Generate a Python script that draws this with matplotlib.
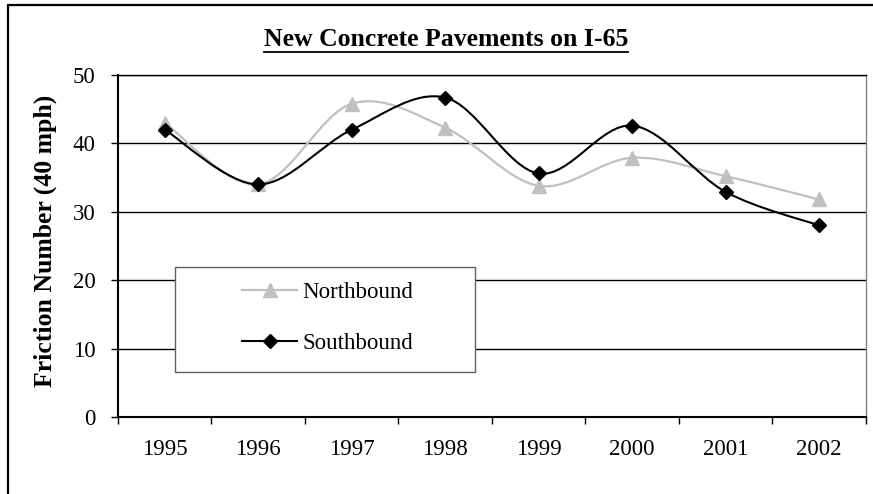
import matplotlib
matplotlib.use("Agg")
import matplotlib.pyplot as plt
from matplotlib.path import Path
from matplotlib.patches import PathPatch, Rectangle
from matplotlib.lines import Line2D
from matplotlib.transforms import IdentityTransform

# Friction numbers measured at 40 mph
years = ["1995", "1996", "1997", "1998", "1999", "2000", "2001", "2002"]
northbound = [43.0, 34.0, 45.8, 42.3, 33.8, 37.9, 35.2, 31.8]
southbound = [42.0, 34.0, 42.0, 46.7, 35.6, 42.6, 32.9, 28.0]
y_ticks = [0, 10, 20, 30, 40, 50]

title = "New Concrete Pavements on I-65"
y_label = "Friction Number (40 mph)"

plt.rcParams["font.family"] = ["Liberation Serif", "DejaVu Serif"]

W, H = 873, 494
fig = plt.figure(figsize=(W / 100, H / 100), dpi=100)
fig.patch.set_facecolor("white")

# outer chart border (only top/left fall inside the canvas)
fig.add_artist(Rectangle((8 / W, -0.1), 1.2, 1 - 5 / H + 0.1, transform=fig.transFigure,
                         fill=False, edgecolor="black", linewidth=1.6))

ax = fig.add_axes([118 / W, 1 - 417 / H, (866 - 118) / W, (417 - 75) / H])

x = list(range(len(years)))


def smooth_path(xs, ys):
    """Cardinal-spline Bezier path through the points (spreadsheet-style smoothing)."""
    n = len(xs)
    verts = [(xs[0], ys[0])]
    codes = [Path.MOVETO]
    for i in range(n - 1):
        a = i - 1 if i > 0 else i
        d = i + 2 if i + 2 < n else i + 1
        c1 = (xs[i] + (xs[i + 1] - xs[a]) / 6, ys[i] + (ys[i + 1] - ys[a]) / 6)
        c2 = (xs[i + 1] - (xs[d] - xs[i]) / 6, ys[i + 1] - (ys[d] - ys[i]) / 6)
        verts += [c1, c2, (xs[i + 1], ys[i + 1])]
        codes += [Path.CURVE4] * 3
    return Path(verts, codes)


nb_color = "#C0C0C0"
sb_color = "black"

ax.add_patch(PathPatch(smooth_path(x, northbound), fill=False, edgecolor=nb_color,
                       linewidth=1.6, zorder=3))
ax.add_patch(PathPatch(smooth_path(x, southbound), fill=False, edgecolor=sb_color,
                       linewidth=1.5, zorder=4))
ax.plot(x, northbound, linestyle="none", marker="^", markersize=9.5,
        color=nb_color, zorder=5)
ax.plot(x, southbound, linestyle="none", marker="D", markersize=7,
        color=sb_color, zorder=6)

ax.set_xlim(-0.5, len(years) - 0.5)
ax.set_ylim(0, 50)

# category boundaries carry the tick marks, labels sit in the middle
ax.set_xticks([i - 0.5 for i in range(len(years) + 1)])
ax.set_xticklabels([])
ax.set_xticks(x, minor=True)
ax.set_xticklabels(years, minor=True, fontsize=16.5)
ax.tick_params(axis="x", which="major", direction="out", length=5, width=1, color="black")
ax.tick_params(axis="x", which="minor", length=0, pad=16)

ax.set_yticks(y_ticks)
ax.set_yticklabels([str(v) for v in y_ticks], fontsize=16.5)
ax.tick_params(axis="y", direction="out", length=5, width=1, color="black", pad=11)

ax.yaxis.grid(True, color="black", linewidth=1)
ax.set_axisbelow(True)

ax.spines["left"].set_linewidth(1.5)
ax.spines["bottom"].set_linewidth(1.5)
ax.spines["top"].set_color("black")
ax.spines["top"].set_linewidth(1)
ax.spines["right"].set_color("#808080")
ax.spines["right"].set_linewidth(1)

# legend frame and entries
fig.add_artist(Rectangle((175 / W, 1 - 372 / H), 300 / W, 105 / H, transform=fig.transFigure,
                         facecolor="white", edgecolor="#606060", linewidth=1, zorder=2))
handles = [
    Line2D([], [], color=nb_color, linewidth=1.6, marker="^", markersize=9.5),
    Line2D([], [], color=sb_color, linewidth=1.5, marker="D", markersize=7),
]
leg = fig.legend(handles, ["Northbound", "Southbound"], loc="upper left",
                 bbox_to_anchor=(242 / W, 1 - 282 / H), bbox_transform=fig.transFigure,
                 frameon=False, borderpad=0, borderaxespad=0, handlelength=2.4,
                 handletextpad=0.25, labelspacing=1.3, fontsize=16.5)
leg.set_zorder(3)

ttl = fig.text(446 / W, 1 - 39 / H, title, ha="center", va="center",
               fontsize=18.5, fontweight="bold")
fig.text(45 / W, 1 - 241 / H, y_label, ha="center", va="center", rotation=90,
         fontsize=18.5, fontweight="bold")

# underline the title
fig.canvas.draw()
bb = ttl.get_window_extent(fig.canvas.get_renderer())
uy = H - 52
fig.add_artist(Line2D([bb.x0, bb.x1], [uy, uy], transform=IdentityTransform(),
                      color="black", linewidth=1.3))

fig.savefig("out.png", dpi=100)
